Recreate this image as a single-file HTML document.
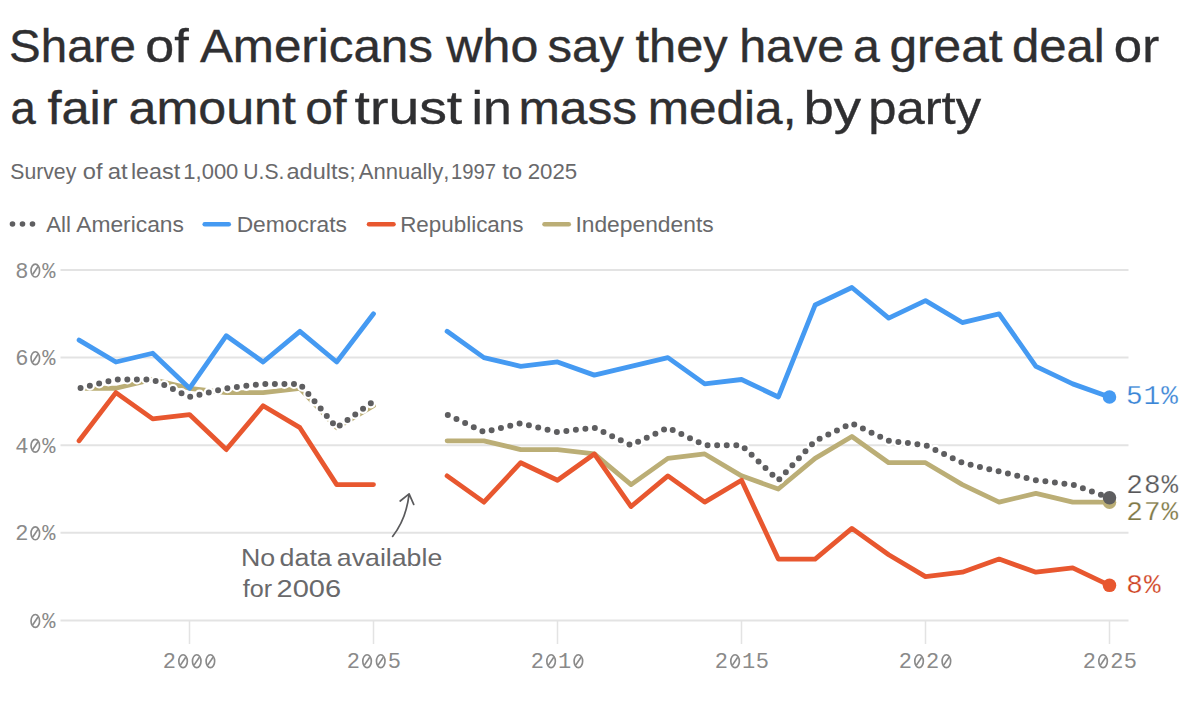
<!DOCTYPE html>
<html><head><meta charset="utf-8"><style>
html,body{margin:0;padding:0;background:#fff;width:1200px;height:712px;overflow:hidden}
svg{display:block}
.sans{font-family:"Liberation Sans",sans-serif;font-kerning:none;font-variant-ligatures:none}
.mono{font-family:"Liberation Mono",monospace}
</style></head><body>
<svg width="1200" height="712" viewBox="0 0 1200 712">
<rect width="1200" height="712" fill="#fff"/>
<g class="sans" fill="#2f2f31" stroke="#2f2f31" stroke-width="0.35" font-size="45.4">
<g><text transform="translate(9.09 61.80) scale(1.0464 1)">Share</text><text transform="translate(145.32 61.80) scale(1.1451 1)">of</text><text transform="translate(199.90 61.80) scale(1.0871 1)">Americans</text><text transform="translate(446.32 61.80) scale(1.1050 1)">who</text><text transform="translate(547.38 61.80) scale(1.0823 1)">say</text><text transform="translate(635.51 61.80) scale(1.0731 1)">they</text><text transform="translate(739.15 61.80) scale(1.0656 1)">have</text><text transform="translate(852.95 61.80) scale(1.0634 1)">a</text><text transform="translate(889.41 61.80) scale(1.0944 1)">great</text><text transform="translate(1011.94 61.80) scale(1.0817 1)">deal</text><text transform="translate(1113.86 61.80) scale(1.1218 1)">or</text></g><g><text transform="translate(10.47 123.90) scale(1.0013 1)">a</text><text transform="translate(47.38 123.90) scale(1.1156 1)">fair</text><text transform="translate(128.47 123.90) scale(1.1061 1)">amount</text><text transform="translate(305.21 123.90) scale(1.0937 1)">of</text><text transform="translate(354.56 123.90) scale(1.2203 1)">trust</text><text transform="translate(471.53 123.90) scale(1.1414 1)">in</text><text transform="translate(518.40 123.90) scale(1.0952 1)">mass</text><text transform="translate(647.71 123.90) scale(1.0916 1)">media,</text><text transform="translate(803.48 123.90) scale(1.2017 1)">by</text><text transform="translate(868.23 123.90) scale(1.1183 1)">party</text></g>
</g>
<g class="sans" font-size="22" fill="#69696b"><g><text transform="translate(10.29 178.60) scale(0.9640 1)">Survey</text><text transform="translate(82.76 178.60) scale(1.0741 1)">of</text><text transform="translate(107.73 178.60) scale(1.0868 1)">at</text><text transform="translate(130.93 178.60) scale(1.0596 1)">least</text><text transform="translate(183.32 178.60) scale(0.9996 1)">1,000</text><text transform="translate(243.37 178.60) scale(0.9596 1)">U.S.</text><text transform="translate(286.50 178.60) scale(1.0701 1)">adults;</text><text transform="translate(358.71 178.60) scale(1.0030 1)">Annually,</text><text transform="translate(450.96 178.60) scale(0.9207 1)">1997</text><text transform="translate(502.13 178.60) scale(1.0971 1)">to</text><text transform="translate(527.63 178.60) scale(1.0126 1)">2025</text></g></g>
<g class="sans" font-size="21.5" fill="#69696b">
<circle cx="12.5" cy="224" r="2.8" fill="#5e5e60"/><circle cx="22.5" cy="224" r="2.8" fill="#5e5e60"/><circle cx="32.5" cy="224" r="2.8" fill="#5e5e60"/>
<g><text transform="translate(46.21 231.60) scale(1.0329 1)">All</text><text transform="translate(76.21 231.60) scale(1.0607 1)">Americans</text><text transform="translate(236.63 231.60) scale(1.0621 1)">Democrats</text><text transform="translate(400.16 231.60) scale(1.0425 1)">Republicans</text><text transform="translate(575.39 231.60) scale(1.0623 1)">Independents</text></g>
<line x1="204.7" x2="228.8" y1="224.2" y2="224.2" stroke="#459af2" stroke-width="4.5" stroke-linecap="round"/>
<line x1="369" x2="393.5" y1="224.2" y2="224.2" stroke="#e8572f" stroke-width="4.5" stroke-linecap="round"/>
<line x1="544.5" x2="568.8" y1="224.2" y2="224.2" stroke="#bbae76" stroke-width="4.5" stroke-linecap="round"/>
</g>
<g stroke="#e3e3e3" stroke-width="2"><line x1="60.5" x2="1128.5" y1="620.40" y2="620.40"/><line x1="60.5" x2="1128.5" y1="532.80" y2="532.80"/><line x1="60.5" x2="1128.5" y1="445.20" y2="445.20"/><line x1="60.5" x2="1128.5" y1="357.60" y2="357.60"/><line x1="60.5" x2="1128.5" y1="270.00" y2="270.00"/></g>
<g stroke="#e3e3e3" stroke-width="1.5"><line x1="189.50" x2="189.50" y1="620.40" y2="644"/><line x1="373.50" x2="373.50" y1="620.40" y2="644"/><line x1="557.50" x2="557.50" y1="620.40" y2="644"/><line x1="741.50" x2="741.50" y1="620.40" y2="644"/><line x1="925.50" x2="925.50" y1="620.40" y2="644"/><line x1="1109.50" x2="1109.50" y1="620.40" y2="644"/></g>
<text class="mono" font-size="22" fill="#8a8a8a" x="42.20" y="627.90">%</text><g fill="none" stroke="#8a8a8a" stroke-width="1.65"><ellipse cx="35.30" cy="620.95" rx="4.27" ry="6.42"/><line x1="32.65" y1="624.93" x2="37.95" y2="616.97"/></g><text class="mono" font-size="22" fill="#8a8a8a" x="15.19 42.20" y="540.30">2%</text><g fill="none" stroke="#8a8a8a" stroke-width="1.65"><ellipse cx="35.30" cy="533.35" rx="4.27" ry="6.42"/><line x1="32.65" y1="537.33" x2="37.95" y2="529.37"/></g><text class="mono" font-size="22" fill="#8a8a8a" x="15.19 42.20" y="452.70">4%</text><g fill="none" stroke="#8a8a8a" stroke-width="1.65"><ellipse cx="35.30" cy="445.75" rx="4.27" ry="6.42"/><line x1="32.65" y1="449.73" x2="37.95" y2="441.77"/></g><text class="mono" font-size="22" fill="#8a8a8a" x="15.19 42.20" y="365.10">6%</text><g fill="none" stroke="#8a8a8a" stroke-width="1.65"><ellipse cx="35.30" cy="358.15" rx="4.27" ry="6.42"/><line x1="32.65" y1="362.13" x2="37.95" y2="354.17"/></g><text class="mono" font-size="22" fill="#8a8a8a" x="15.19 42.20" y="277.50">8%</text><g fill="none" stroke="#8a8a8a" stroke-width="1.65"><ellipse cx="35.30" cy="270.55" rx="4.27" ry="6.42"/><line x1="32.65" y1="274.53" x2="37.95" y2="266.57"/></g>
<text class="mono" font-size="22" fill="#8a8a8a" x="162.82" y="668.10">2</text><g fill="none" stroke="#8a8a8a" stroke-width="1.65"><ellipse cx="183.07" cy="661.15" rx="4.27" ry="6.42"/><line x1="180.42" y1="665.13" x2="185.72" y2="657.17"/><ellipse cx="196.73" cy="661.15" rx="4.27" ry="6.42"/><line x1="194.08" y1="665.13" x2="199.38" y2="657.17"/><ellipse cx="210.38" cy="661.15" rx="4.27" ry="6.42"/><line x1="207.73" y1="665.13" x2="213.03" y2="657.17"/></g><text class="mono" font-size="22" fill="#8a8a8a" x="346.82 387.78" y="668.10">25</text><g fill="none" stroke="#8a8a8a" stroke-width="1.65"><ellipse cx="367.07" cy="661.15" rx="4.27" ry="6.42"/><line x1="364.42" y1="665.13" x2="369.72" y2="657.17"/><ellipse cx="380.73" cy="661.15" rx="4.27" ry="6.42"/><line x1="378.08" y1="665.13" x2="383.38" y2="657.17"/></g><text class="mono" font-size="22" fill="#8a8a8a" x="530.82 558.12" y="668.10">21</text><g fill="none" stroke="#8a8a8a" stroke-width="1.65"><ellipse cx="551.07" cy="661.15" rx="4.27" ry="6.42"/><line x1="548.42" y1="665.13" x2="553.72" y2="657.17"/><ellipse cx="578.38" cy="661.15" rx="4.27" ry="6.42"/><line x1="575.73" y1="665.13" x2="581.03" y2="657.17"/></g><text class="mono" font-size="22" fill="#8a8a8a" x="714.82 742.12 755.78" y="668.10">215</text><g fill="none" stroke="#8a8a8a" stroke-width="1.65"><ellipse cx="735.07" cy="661.15" rx="4.27" ry="6.42"/><line x1="732.42" y1="665.13" x2="737.72" y2="657.17"/></g><text class="mono" font-size="22" fill="#8a8a8a" x="898.82 926.12" y="668.10">22</text><g fill="none" stroke="#8a8a8a" stroke-width="1.65"><ellipse cx="919.07" cy="661.15" rx="4.27" ry="6.42"/><line x1="916.42" y1="665.13" x2="921.72" y2="657.17"/><ellipse cx="946.38" cy="661.15" rx="4.27" ry="6.42"/><line x1="943.73" y1="665.13" x2="949.03" y2="657.17"/></g><text class="mono" font-size="22" fill="#8a8a8a" x="1082.82 1110.13 1123.78" y="668.10">225</text><g fill="none" stroke="#8a8a8a" stroke-width="1.65"><ellipse cx="1103.07" cy="661.15" rx="4.27" ry="6.42"/><line x1="1100.42" y1="665.13" x2="1105.72" y2="657.17"/></g>
<g fill="none" stroke-width="4.8" stroke-linejoin="round" stroke-linecap="round">
<path d="M79.10 388.26 L115.90 388.26 L152.70 379.50 L189.50 388.26 L226.30 392.64 L263.10 392.64 L299.90 388.26 L336.70 427.68 L373.50 405.78 M447.10 440.82 L483.90 440.82 L520.70 449.58 L557.50 449.58 L594.30 453.96 L631.10 484.62 L667.90 458.34 L704.70 453.96 L741.50 475.86 L778.30 489.00 L815.10 458.34 L851.90 436.44 L888.70 462.72 L925.50 462.72 L962.30 484.62 L999.10 502.14 L1035.90 493.38 L1072.70 502.14 L1109.50 502.14" stroke="#bbae76"/>
<path d="M79.10 440.82 L115.90 392.64 L152.70 418.92 L189.50 414.54 L226.30 449.58 L263.10 405.78 L299.90 427.68 L336.70 484.62 L373.50 484.62 M447.10 475.86 L483.90 502.14 L520.70 462.72 L557.50 480.24 L594.30 453.96 L631.10 506.52 L667.90 475.86 L704.70 502.14 L741.50 480.24 L778.30 559.08 L815.10 559.08 L851.90 528.42 L888.70 554.70 L925.50 576.60 L962.30 572.22 L999.10 559.08 L1035.90 572.22 L1072.70 567.84 L1109.50 585.36" stroke="#e8572f"/>
<path d="M79.10 340.08 L115.90 361.98 L152.70 353.22 L189.50 388.26 L226.30 335.70 L263.10 361.98 L299.90 331.32 L336.70 361.98 L373.50 313.80 M447.10 331.32 L483.90 357.60 L520.70 366.36 L557.50 361.98 L594.30 375.12 L631.10 366.36 L667.90 357.60 L704.70 383.88 L741.50 379.50 L778.30 397.02 L815.10 305.04 L851.90 287.52 L888.70 318.18 L925.50 300.66 L962.30 322.56 L999.10 313.80 L1035.90 366.36 L1072.70 383.88 L1109.50 397.02" stroke="#459af2"/>
<path d="M79.10 388.26 L115.90 379.50 L152.70 379.50 L189.50 397.02 L226.30 388.26 L263.10 383.88 L299.90 383.88 L336.70 427.68 L373.50 401.40" stroke="#fff" stroke-width="10.2" stroke-dasharray="0 9.55" stroke-dashoffset="-1.5"/>
<path d="M447.10 414.54 L483.90 432.06 L520.70 423.30 L557.50 432.06 L594.30 427.68 L631.10 445.20 L667.90 427.68 L704.70 445.20 L741.50 445.20 L778.30 480.24 L815.10 440.82 L851.90 423.30 L888.70 440.82 L925.50 445.20 L962.30 462.72 L999.10 471.48 L1035.90 480.24 L1072.70 484.62 L1109.50 497.76" stroke="#fff" stroke-width="10.2" stroke-dasharray="0 9.58" stroke-dashoffset="-0.8"/>
<path d="M79.10 388.26 L115.90 379.50 L152.70 379.50 L189.50 397.02 L226.30 388.26 L263.10 383.88 L299.90 383.88 L336.70 427.68 L373.50 401.40" stroke="#5e5e60" stroke-width="6" stroke-dasharray="0 9.55" stroke-dashoffset="-1.5"/>
<path d="M447.10 414.54 L483.90 432.06 L520.70 423.30 L557.50 432.06 L594.30 427.68 L631.10 445.20 L667.90 427.68 L704.70 445.20 L741.50 445.20 L778.30 480.24 L815.10 440.82 L851.90 423.30 L888.70 440.82 L925.50 445.20 L962.30 462.72 L999.10 471.48 L1035.90 480.24 L1072.70 484.62 L1109.50 497.76" stroke="#5e5e60" stroke-width="6" stroke-dasharray="0 9.58" stroke-dashoffset="-0.8"/>
</g>
<circle cx="1109.50" cy="397.02" r="6.75" fill="#459af2"/>
<circle cx="1109.50" cy="585.36" r="6.75" fill="#e8572f"/>
<circle cx="1109.50" cy="502.14" r="6.75" fill="#bbae76"/>
<circle cx="1109.50" cy="497.76" r="6.75" fill="#5e5e60"/>
<text class="mono" font-size="27.7" fill="#3b86d6" x="1125.90 1143.52 1161.15" y="403.60" stroke="#fff" stroke-width="0.25">51%</text><text class="mono" font-size="27.7" fill="#58585a" x="1126.30 1143.92 1161.55" y="492.70" stroke="#fff" stroke-width="0.25">28%</text><text class="mono" font-size="27.7" fill="#7f7947" x="1126.30 1143.92 1161.55" y="520.30" stroke="#fff" stroke-width="0.25">27%</text><text class="mono" font-size="27.7" fill="#cf4424" x="1126.30 1143.92" y="592.80" stroke="#fff" stroke-width="0.25">8%</text>
<path d="M392.6 536.4 Q406.4 518.8 409.1 493.9 M400.2 501 L409.1 493.9 L413.7 504.4" fill="none" stroke="#5a5a5c" stroke-width="1.7" stroke-linecap="round" stroke-linejoin="round"/>
<g class="sans" font-size="24" fill="#69696b"><g><text transform="translate(240.90 565.60) scale(1.1154 1)">No</text><text transform="translate(279.57 565.60) scale(1.1181 1)">data</text><text transform="translate(336.87 565.60) scale(1.1128 1)">available</text></g><g><text transform="translate(242.74 597.00) scale(1.0488 1)">for</text><text transform="translate(276.54 597.00) scale(1.2087 1)">2006</text></g></g>
</svg>
</body></html>
